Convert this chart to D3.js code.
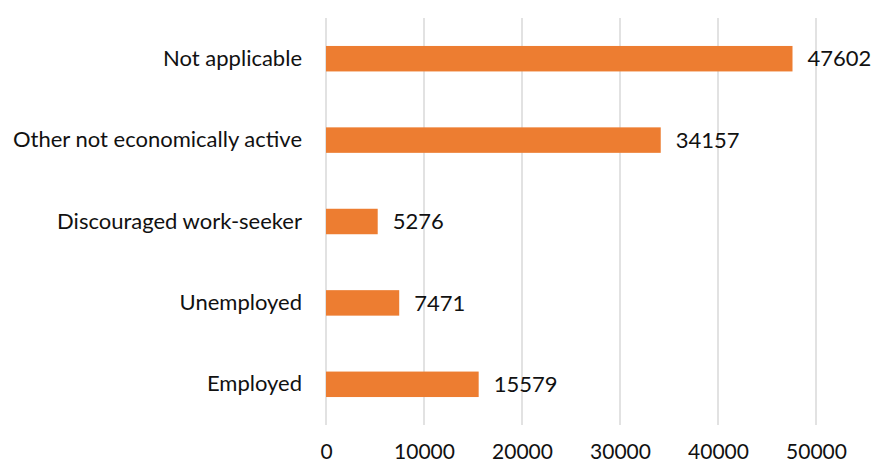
<!DOCTYPE html>
<html>
<head>
<meta charset="utf-8">
<script src="https://cdn.jsdelivr.net/npm/d3@7"></script>
<style>
  html, body { margin: 0; padding: 0; background: #fff; }
  svg { display: block; }
  text { font-family: Lato, "Liberation Sans", sans-serif; fill: #111; }
</style>
</head>
<body>
<svg id="chart" width="871" height="464"></svg>
<script>
// Population by labour-market status
const categories = ["Not applicable", "Other not economically active", "Discouraged work-seeker", "Unemployed", "Employed"];
const values = [47602, 34157, 5276, 7471, 15579];
const tickValues = [0, 10000, 20000, 30000, 40000, 50000];

const svg = d3.select("#chart");
const FONT = "Lato, 'Liberation Sans', sans-serif";
const fontSize = 22;
const plotTop = 18, plotBottom = 425;

const x = d3.scaleLinear().domain([0, 50000]).range([326, 816]);
const y = d3.scaleBand().domain(categories).range([plotTop, plotBottom]).paddingInner(0.687).paddingOuter(0.3435);

// vertical gridlines
svg.append("g")
  .selectAll("line")
  .data(tickValues)
  .join("line")
  .attr("x1", d => x(d)).attr("x2", d => x(d))
  .attr("y1", plotTop).attr("y2", plotBottom)
  .attr("stroke", "#d9d9d9").attr("stroke-width", 1.5);

// x axis tick labels
const xAxis = d3.axisBottom(x).tickValues(tickValues).tickSize(0).tickPadding(0).tickFormat(d3.format("d"));
const gx = svg.append("g").attr("transform", "translate(0, 459)").call(xAxis);
gx.select(".domain").remove();
gx.selectAll("text").attr("font-size", 21).attr("dy", 0).attr("y", 0)
  .style("font-family", FONT).attr("fill", "#111");

// category labels
const yAxis = d3.axisLeft(y).tickSize(0).tickPadding(24);
const gy = svg.append("g").attr("transform", `translate(${x(0)}, 0)`).call(yAxis);
gy.select(".domain").remove();
gy.selectAll("text").attr("font-size", fontSize)
  .style("font-family", FONT).attr("fill", "#111");

// bars
svg.append("g")
  .selectAll("rect")
  .data(values)
  .join("rect")
  .attr("x", x(0))
  .attr("y", (d, i) => y(categories[i]))
  .attr("width", d => x(d) - x(0))
  .attr("height", y.bandwidth())
  .attr("fill", "#ED7D31");

// value labels
svg.append("g")
  .selectAll("text")
  .data(values)
  .join("text")
  .attr("x", d => x(d) + 15)
  .attr("y", (d, i) => y(categories[i]) + y.bandwidth() / 2)
  .attr("dy", "0.35em")
  .attr("font-size", fontSize)
  .text(d => d);
</script>
</body>
</html>
